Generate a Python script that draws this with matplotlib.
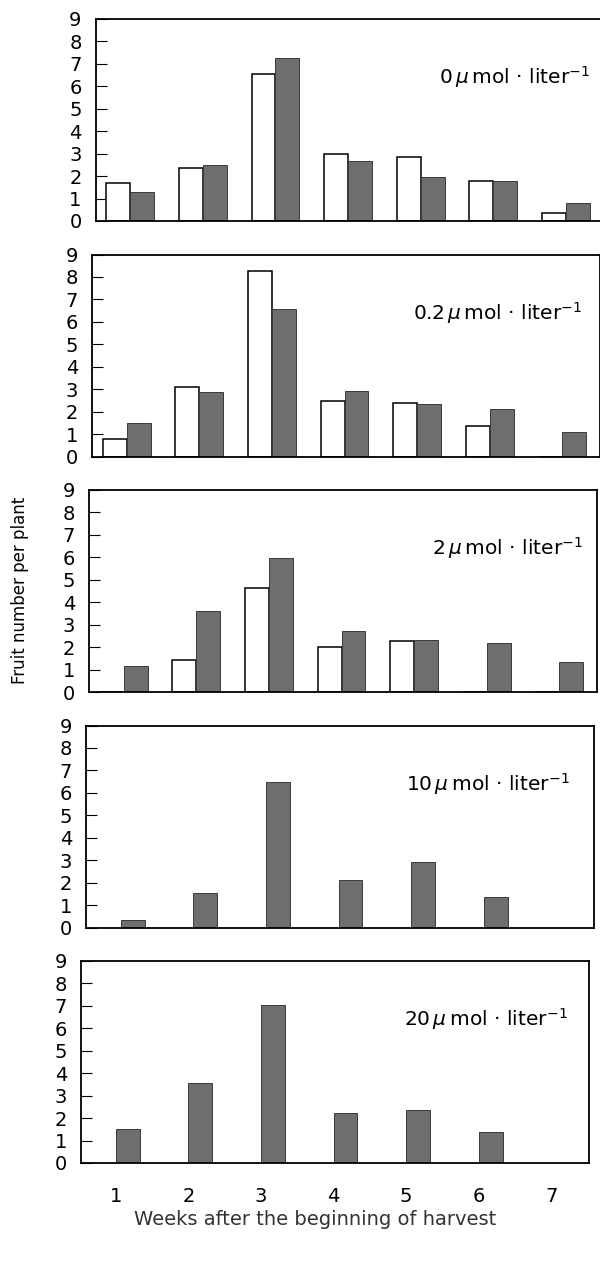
import matplotlib
matplotlib.use("Agg")
import matplotlib.pyplot as plt
import numpy as np

weeks = [1, 2, 3, 4, 5, 6, 7]
week_labels = ["1", "2", "3", "4", "5", "6", "7"]
y_ticks = [0, 1, 2, 3, 4, 5, 6, 7, 8, 9]
panel_labels = ["0", "0.2", "2", "10", "20"]

# open (white) bars and shaded bars per concentration
white_0 = [1.7, 2.37, 6.55, 2.99, 2.83, 1.79, 0.35]
gray_0 = [1.27, 2.51, 7.28, 2.69, 1.94, 1.79, 0.79]
white_02 = [0.8, 3.08, 8.25, 2.49, 2.37, 1.38, 0.0]
gray_02 = [1.49, 2.89, 6.58, 2.90, 2.34, 2.13, 1.10]
white_2 = [0.0, 1.42, 4.65, 2.0, 2.27, 0.0, 0.0]
gray_2 = [1.14, 3.6, 5.98, 2.73, 2.30, 2.19, 1.32]
gray_10 = [0.35, 1.55, 6.48, 2.13, 2.92, 1.36, 0.0]
gray_20 = [1.52, 3.55, 7.03, 2.22, 2.36, 1.37, 0.0]

whites = [white_0, white_02, white_2, None, None]
grays = [gray_0, gray_02, gray_2, gray_10, gray_20]

plt.rcParams['font.family'] = ['DejaVu Sans']
W, H = 600, 1288
fig = plt.figure(figsize=(W / 100, H / 100), dpi=100)

# layout (pixels); the scanned original is slightly rotated, so panels drift left
lefts_px = [95.5, 92, 89, 86, 81]
width_px = 508
top_px, bottom_px = 19, 1163
ph = 202
gap = ((bottom_px - top_px) - 5 * ph) / 4
label_x = [7.33, 7.27, 7.32, 7.19, 7.23]
bw = 0.33
gray_color = "#6e6e6e"

for i in range(5):
    t = top_px + i * (ph + gap)
    ax = fig.add_axes([lefts_px[i] / W, 1 - (t + ph) / H, width_px / W, ph / H])
    x = np.array(weeks, dtype=float)
    if whites[i] is not None:
        ax.bar(x - bw, whites[i], width=bw, align='edge', color='white',
               edgecolor='black', linewidth=1.1, zorder=2)
    ax.bar(x, grays[i], width=bw, align='edge', color=gray_color,
           edgecolor='#3a3a3a', linewidth=0.7, zorder=2)
    ax.set_xlim(0.52, 7.52)
    ax.set_ylim(0, 9)
    ax.set_yticks(y_ticks)
    ax.set_yticklabels([str(v) for v in y_ticks], fontsize=14)
    ax.tick_params(axis='y', direction='in', length=8, width=0.8, pad=10)
    ax.set_xticks(weeks)
    if i == 4:
        ax.set_xticklabels(week_labels, fontsize=14)
        ax.tick_params(axis='x', length=0, pad=17)
        ax.set_xlabel("Weeks after the beginning of harvest", fontsize=14,
                      color='#333333')
        ax.xaxis.set_label_coords(0.46, -0.235)
    else:
        ax.tick_params(axis='x', length=0, labelbottom=False)
    for s in ax.spines.values():
        s.set_linewidth(1.3)
    ax.text(label_x[i], 6.1, panel_labels[i] + r"$\,\mu$" + "\u2009mol \u00b7 liter$^{-1}$",
            ha='right', va='baseline', fontsize=14.5)

fig.text(20 / W, 1 - 590 / H, "Fruit number per plant", rotation=90,
         ha='center', va='center', fontsize=12)

fig.savefig("out.png", dpi=100)
